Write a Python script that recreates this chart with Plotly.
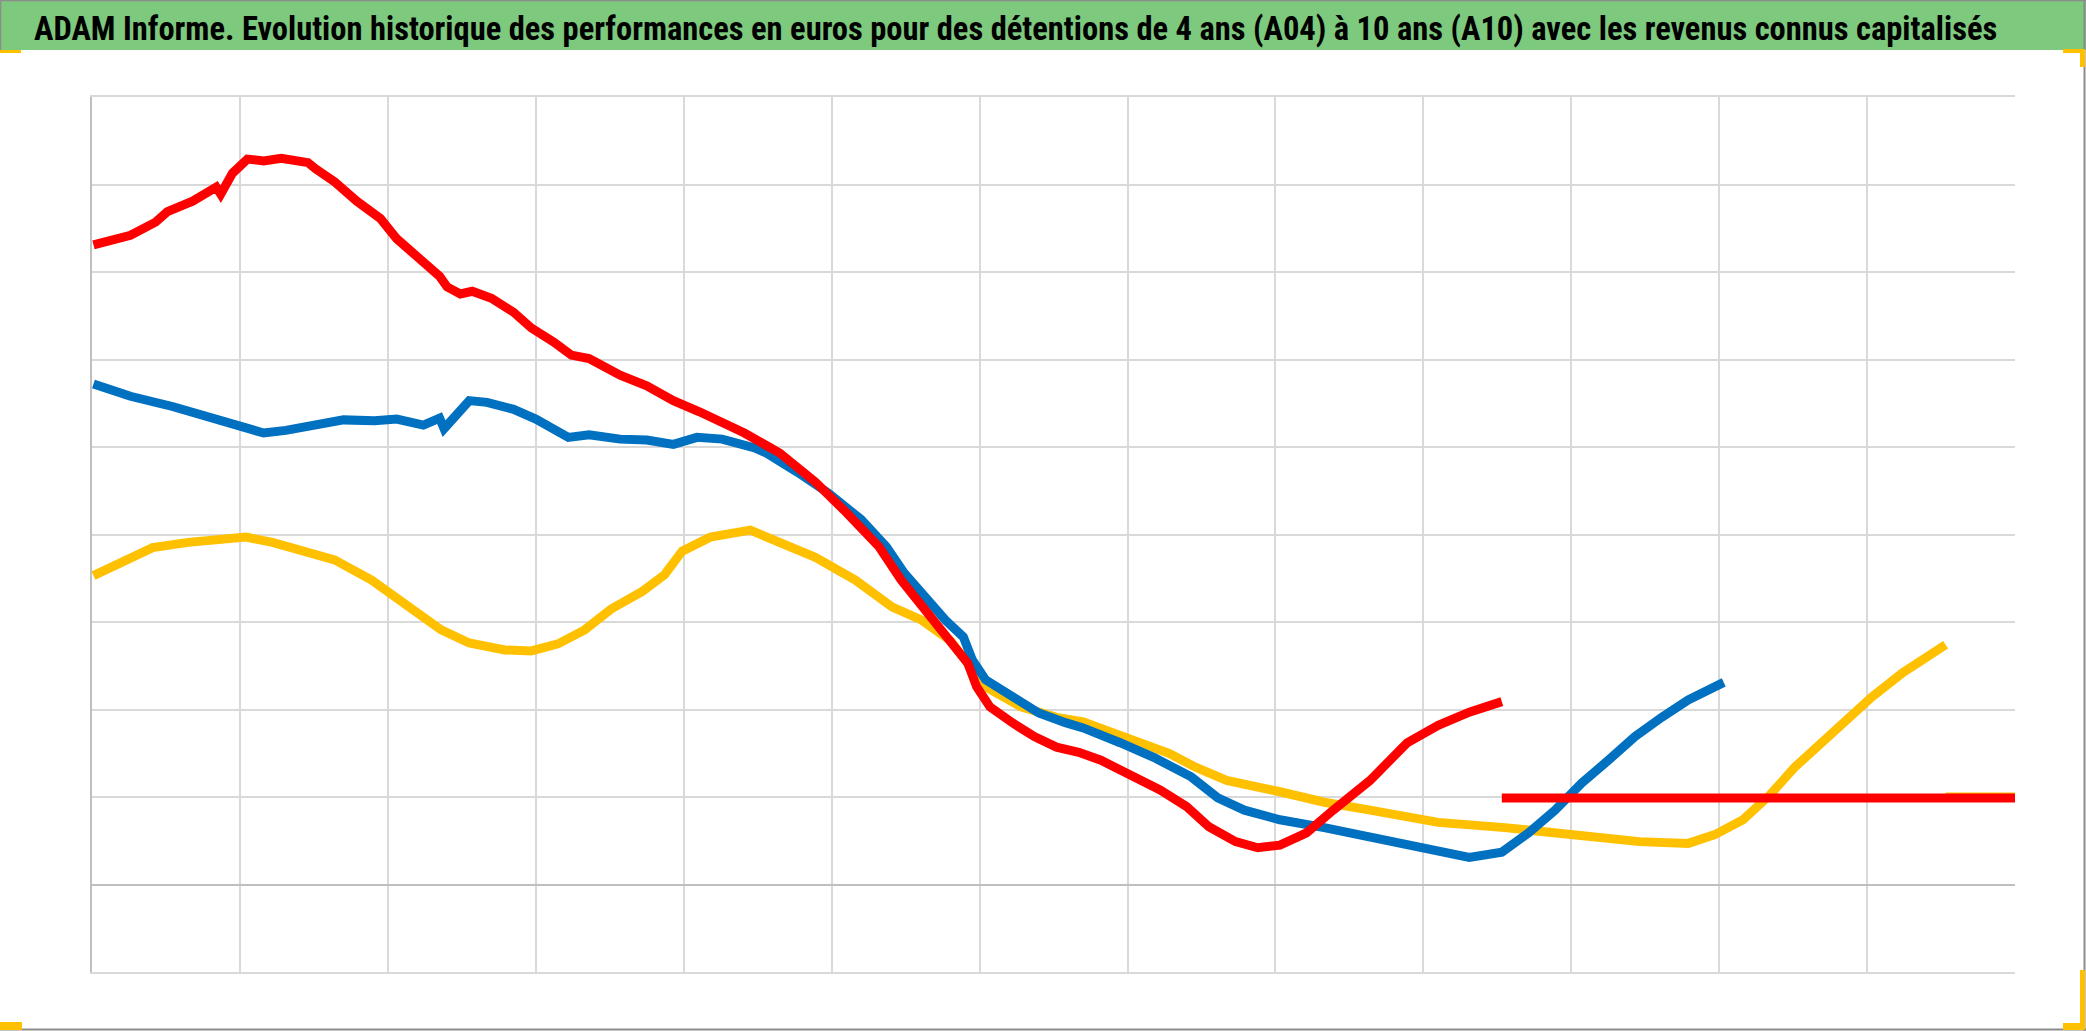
import plotly.graph_objects as go

# ---- data (x in years from start of window, y in % performance) ----
a04_x = [0.01, 0.26, 0.43, 0.51, 0.68, 0.84, 0.87, 0.95, 1.05, 1.16, 1.28, 1.46, 1.51, 1.64, 1.79, 1.95,
         2.06, 2.22, 2.35, 2.40, 2.49, 2.57, 2.70, 2.85, 2.97, 3.12, 3.24, 3.36, 3.57, 3.75, 3.93, 4.11,
         4.41, 4.65, 4.89, 5.10, 5.32, 5.47, 5.59, 5.74, 5.84, 5.92, 5.98, 6.07, 6.22, 6.37, 6.52, 6.67,
         6.82, 7.01, 7.22, 7.40, 7.55, 7.73, 7.88, 8.03, 8.21, 8.39, 8.64, 8.89, 9.10, 9.31, 9.53]
a04_y = [73.1, 74.2, 75.7, 76.9, 78.1, 79.7, 78.9, 81.3, 82.9, 82.7, 83.0, 82.5, 81.8, 80.3, 78.1, 76.1,
         73.8, 71.5, 69.5, 68.3, 67.5, 67.8, 67.0, 65.4, 63.6, 62.0, 60.5, 60.1, 58.2, 57.0, 55.3, 54.0,
         51.6, 49.3, 46.0, 42.5, 38.6, 34.8, 32.2, 29.1, 26.8, 25.3, 22.6, 20.3, 18.5, 16.9, 15.7, 15.1,
         14.2, 12.7, 10.8, 8.9, 6.6, 4.9, 4.2, 4.5, 5.9, 8.5, 11.9, 16.2, 18.2, 19.7, 20.9]

a07_x = [0.01, 0.26, 0.55, 0.77, 0.98, 1.16, 1.31, 1.52, 1.70, 1.91, 2.06, 2.24, 2.35, 2.38, 2.55, 2.67,
         2.85, 3.00, 3.12, 3.22, 3.36, 3.57, 3.75, 3.93, 4.09, 4.26, 4.48, 4.56, 4.77, 4.98, 5.20, 5.37,
         5.49, 5.61, 5.77, 5.89, 5.95, 6.04, 6.22, 6.40, 6.58, 6.70, 6.95, 7.18, 7.43, 7.61, 7.79, 8.03,
         8.33, 8.64, 8.80, 9.10, 9.31, 9.53, 9.71, 9.89, 10.07, 10.25, 10.43, 10.61, 10.79, 11.03]
a07_y = [57.2, 55.8, 54.6, 53.5, 52.4, 51.6, 51.9, 52.5, 53.1, 53.0, 53.2, 52.5, 53.3, 52.1, 55.3, 55.1,
         54.3, 53.2, 52.2, 51.1, 51.4, 50.9, 50.8, 50.3, 51.1, 50.9, 49.9, 49.3, 47.1, 44.7, 41.7, 38.6,
         35.6, 33.3, 30.2, 28.3, 25.7, 23.4, 21.4, 19.6, 18.5, 17.9, 16.2, 14.5, 12.3, 9.9, 8.5, 7.4,
         6.5, 5.4, 4.7, 3.6, 3.1, 3.7, 5.9, 8.5, 11.6, 14.2, 16.9, 19.1, 21.1, 23.1]

a10_x = [0.01, 0.20, 0.41, 0.65, 0.86, 1.04, 1.22, 1.43, 1.64, 1.89, 2.12, 2.36, 2.55, 2.79, 2.97, 3.15,
         3.33, 3.51, 3.72, 3.87, 3.99, 4.18, 4.45, 4.65, 4.89, 5.16, 5.41, 5.61, 5.80, 5.92, 6.04, 6.28,
         6.52, 6.70, 6.97, 7.28, 7.46, 7.67, 8.03, 8.33, 8.64, 9.10, 9.55, 10.01, 10.46, 10.79, 10.97,
         11.16, 11.34, 11.51, 11.70, 11.88, 12.03, 12.24, 12.53]
a10_y = [35.3, 36.9, 38.5, 39.1, 39.4, 39.7, 39.1, 38.2, 37.1, 34.8, 32.0, 29.1, 27.6, 26.8, 26.7, 27.5,
         29.1, 31.5, 33.5, 35.4, 38.1, 39.7, 40.5, 39.0, 37.4, 34.8, 31.7, 30.2, 27.9, 25.3, 22.6, 20.3,
         19.1, 18.6, 16.9, 15.0, 13.4, 11.9, 10.6, 9.4, 8.5, 7.1, 6.5, 5.7, 4.9, 4.7, 5.7,
         7.4, 10.2, 13.4, 16.5, 19.1, 21.4, 24.2, 27.4]

flat_yellow_x = [12.53, 13.0]
flat_yellow_y = [10.0, 10.0]
flat_red_x = [9.53, 13.0]
flat_red_y = [9.9, 9.9]

title = ("ADAM Informe. Evolution historique des performances en euros pour des détentions "
         "de 4 ans (A04) à 10 ans (A10) avec les revenus connus capitalisés")

RED, BLUE, YELLOW = "#FF0000", "#0070C0", "#FFC000"
LW = 9

fig = go.Figure()
fig.add_trace(go.Scatter(x=a10_x, y=a10_y, mode="lines", line=dict(color=YELLOW, width=LW), name="A10"))
fig.add_trace(go.Scatter(x=flat_yellow_x, y=flat_yellow_y, mode="lines", line=dict(color=YELLOW, width=LW), showlegend=False))
fig.add_trace(go.Scatter(x=a07_x, y=a07_y, mode="lines", line=dict(color=BLUE, width=LW), name="A07"))
fig.add_trace(go.Scatter(x=a04_x, y=a04_y, mode="lines", line=dict(color=RED, width=LW), name="A04"))
fig.add_trace(go.Scatter(x=flat_red_x, y=flat_red_y, mode="lines", line=dict(color=RED, width=LW), showlegend=False))

W, H = 2086, 1031
L, R, T, B = 92, 71, 97, 59
pw, ph = W - L - R, H - T - B

def px(xp):
    return (xp - L) / pw

def py(yp):
    return 1 - (yp - T) / ph

shapes = [
    # green title band
    dict(type="rect", xref="paper", yref="paper", x0=px(0), x1=px(W), y0=py(50), y1=py(0),
         fillcolor="#7DC97D", line=dict(width=0), layer="below"),
    # outer frame
    dict(type="line", xref="paper", yref="paper", x0=px(0), x1=px(W), y0=py(0.5), y1=py(0.5),
         line=dict(color="#8C8C8C", width=1.5)),
    dict(type="line", xref="paper", yref="paper", x0=px(W - 1.5), x1=px(W - 1.5), y0=py(0), y1=py(H),
         line=dict(color="#8C8C8C", width=2)),
    dict(type="line", xref="paper", yref="paper", x0=px(0), x1=px(W), y0=py(H - 1.5), y1=py(H - 1.5),
         line=dict(color="#8C8C8C", width=2)),
    dict(type="line", xref="paper", yref="paper", x0=px(0.5), x1=px(0.5), y0=py(0), y1=py(50),
         line=dict(color="#8C8C8C", width=1.5)),
]
# yellow selection handles at corners
for (x0, x1, y0, y1) in [(0, 21, 50, 53), (2063, 2085, 49, 53), (2080, 2085, 49, 67),
                         (0, 22, 1022, 1030), (2080, 2085, 970, 1030), (2063, 2085, 1023, 1030)]:
    shapes.append(dict(type="rect", xref="paper", yref="paper", x0=px(x0), x1=px(x1),
                       y0=py(y1), y1=py(y0), fillcolor=YELLOW, line=dict(width=0)))

fig.update_layout(
    width=W, height=H,
    margin=dict(l=L, r=R, t=T, b=B),
    paper_bgcolor="white", plot_bgcolor="white",
    showlegend=False,
    shapes=shapes,
    annotations=[dict(text="<b>" + title + "</b>", xref="paper", yref="paper",
                      x=px(1015), y=py(29), xanchor="center", yanchor="middle",
                      showarrow=False,
                      font=dict(family="Liberation Sans Narrow, Roboto Condensed, Liberation Sans",
                                size=32.5, color="black"))],
    xaxis=dict(range=[0, 12.999], dtick=1, tick0=0, showgrid=True, gridcolor="#D9D9D9", gridwidth=1.5,
               showticklabels=False, ticks="", zeroline=False, showline=True, linecolor="#D9D9D9",
               linewidth=1.5, mirror=True),
    yaxis=dict(range=[-10, 90], dtick=10, tick0=0, showgrid=True, gridcolor="#D9D9D9", gridwidth=1.5,
               showticklabels=False, ticks="", zeroline=True, zerolinecolor="#BFBFBF", zerolinewidth=2,
               showline=True, linecolor="#BFBFBF", linewidth=2),
)

fig.write_html("out.html",
               config={"displayModeBar": False},
               post_script="document.body.style.margin='0';document.body.style.padding='0';"
                           "document.documentElement.style.overflow='hidden';")
